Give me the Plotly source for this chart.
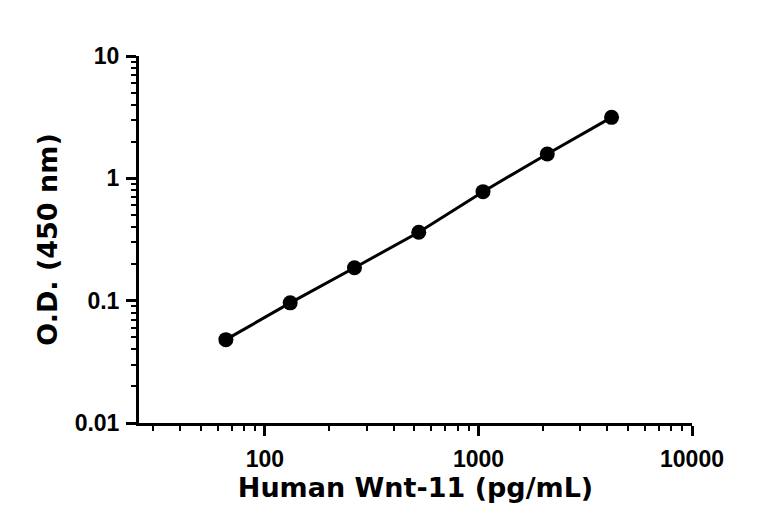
import plotly.graph_objects as go

# standard curve, doubling dilutions
conc_pg_ml = [65.6, 131.25, 262.5, 525, 1050, 2100, 4200]
od_450 = [0.048, 0.096, 0.186, 0.362, 0.778, 1.58, 3.15]

x_ticks = [100, 1000, 10000]
x_tick_text = ["100", "1000", "10000"]
y_ticks = [0.01, 0.1, 1, 10]
y_tick_text = ["0.01", "0.1", "1", "10"]

tick_font = dict(family="Liberation Sans", size=23, color="black", weight="bold")
title_font = dict(family="DejaVu Sans", size=27, color="black", weight="bold")

fig = go.Figure()
fig.add_trace(go.Scatter(
    x=conc_pg_ml, y=od_450,
    mode="lines+markers",
    line=dict(color="black", width=3),
    marker=dict(color="black", size=15),
    showlegend=False,
))

axis_common = dict(
    type="log",
    showgrid=False, zeroline=False,
    showline=True, linecolor="black", linewidth=3,
    ticks="outside", ticklen=10, tickwidth=3, tickcolor="black",
    tickfont=tick_font,
    minor=dict(ticks="outside", ticklen=5, tickwidth=2, tickcolor="black", dtick="D1", showgrid=False),
)

fig.update_xaxes(
    **axis_common,
    range=[1.41, 4],
    tickvals=x_ticks, ticktext=x_tick_text,
    ticklabelstandoff=3,
    title=dict(text="Human Wnt-11 (pg/mL)", font=title_font, standoff=7),
)
fig.update_yaxes(
    **axis_common,
    range=[-2, 1],
    tickvals=y_ticks, ticktext=y_tick_text,
    ticklabelstandoff=2,
    title=dict(text="O.D. (450 nm)", font=title_font, standoff=10),
)

# page body adds an 8px offset, so margins are shifted to keep the plot area in place
fig.update_layout(
    width=768, height=532,
    margin=dict(l=131, r=84, t=48, b=117),
    plot_bgcolor="white", paper_bgcolor="white",
)

fig.write_html("out.html")
